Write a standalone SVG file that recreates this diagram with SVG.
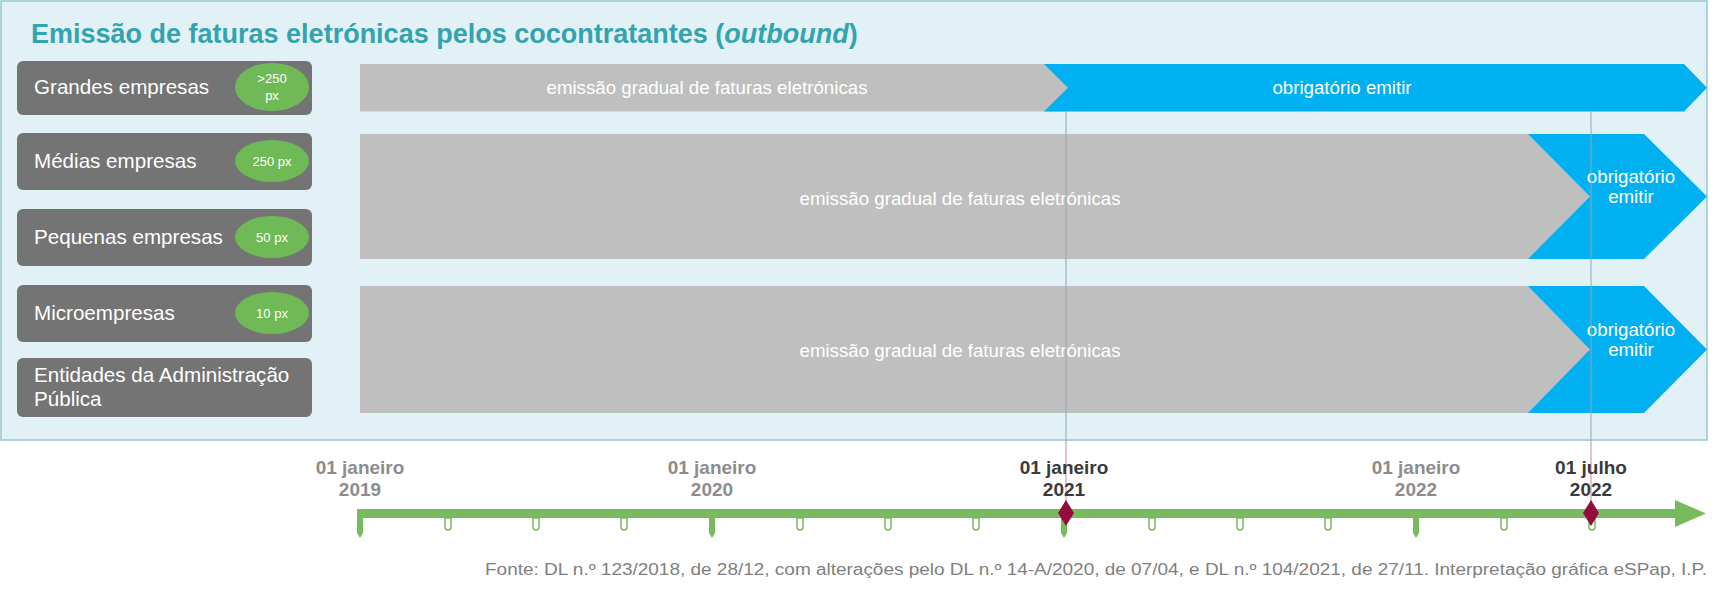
<svg xmlns="http://www.w3.org/2000/svg" width="1730" height="591" viewBox="0 0 1730 591">
<style>
.box{fill:#747474}
.bt{font-family:"Liberation Sans",Arial,sans-serif;font-size:20.6px;fill:#ffffff}
.ell{fill:#6fb957}
.et{font-family:"Liberation Sans",Arial,sans-serif;font-size:13px;fill:#ffffff;text-anchor:middle}
.gray{fill:#bfbfbf}
.blue{fill:#00b0f0}
.bar{font-family:"Liberation Sans",Arial,sans-serif;font-size:18.7px;fill:#ffffff;text-anchor:middle}
.tl{fill:#77bb5e}
.mt{fill:#ffffff;stroke:#77bb5e;stroke-width:1.5}
.dia{fill:#930d3c}
.dl{font-family:"Liberation Sans",Arial,sans-serif;font-size:19px;font-weight:bold;text-anchor:middle}
.dg{fill:#8c8c8c}
.dk{fill:#3a3a3a}
.vl{stroke:#8ea9b6;stroke-width:1}
.vr{stroke:#c98a9c;stroke-width:1}
</style>
<rect x="1" y="1" width="1706" height="439" fill="#e1f1f5" stroke="#94c6d1" stroke-width="1.5"/>
<text x="31" y="43" font-family="Liberation Sans,Arial,sans-serif" font-size="27" font-weight="bold" fill="#33a3ae">Emissão de faturas eletrónicas pelos cocontratantes (<tspan font-style="italic">outbound</tspan>)</text>

<g id="row1">
<rect class="gray" x="360" y="64" width="708" height="47.5"/>
<polygon class="blue" points="1044,64 1684,64 1707,87.75 1684,111.5 1044,111.5 1068,87.75"/>
<text class="bar" x="707" y="94">emissão gradual de faturas eletrónicas</text>
<text class="bar" x="1342" y="94">obrigatório emitir</text>
</g>
<g id="row2">
<rect class="gray" x="360" y="134" width="1230" height="125"/>
<polygon class="blue" points="1528,134 1644,134 1707,196.5 1644,259 1528,259 1590,196.5"/>
<text class="bar" x="960" y="205">emissão gradual de faturas eletrónicas</text>
<text class="bar" x="1631" y="183">obrigatório</text>
<text class="bar" x="1631" y="203">emitir</text>
</g>
<g id="row3">
<rect class="gray" x="360" y="286" width="1230" height="127"/>
<polygon class="blue" points="1528,286 1644,286 1707,349.5 1644,413 1528,413 1590,349.5"/>
<text class="bar" x="960" y="357">emissão gradual de faturas eletrónicas</text>
<text class="bar" x="1631" y="336">obrigatório</text>
<text class="bar" x="1631" y="356">emitir</text>
</g>

<g id="connectors">
<line class="vl" x1="1066" y1="111.5" x2="1066" y2="440"/>
<line class="vr" x1="1066" y1="440" x2="1066" y2="505"/>
<line class="vl" x1="1591" y1="111.5" x2="1591" y2="440"/>
<line class="vr" x1="1591" y1="440" x2="1591" y2="505"/>
</g>

<g id="grandes">
<rect class="box" x="17" y="61" width="295" height="54" rx="6"/>
<text class="bt" x="34" y="94">Grandes empresas</text>
<ellipse class="ell" cx="272" cy="87" rx="37" ry="24"/>
<text class="et" x="272" y="83">&gt;250</text>
<text class="et" x="272" y="100">px</text>
</g>
<g id="medias">
<rect class="box" x="17" y="133" width="295" height="57" rx="6"/>
<text class="bt" x="34" y="168">Médias empresas</text>
<ellipse class="ell" cx="272" cy="161" rx="37" ry="21"/>
<text class="et" x="272" y="166">250 px</text>
</g>
<g id="pequenas">
<rect class="box" x="17" y="209" width="295" height="57" rx="6"/>
<text class="bt" x="34" y="244">Pequenas empresas</text>
<ellipse class="ell" cx="272" cy="237" rx="37" ry="21"/>
<text class="et" x="272" y="242">50 px</text>
</g>
<g id="micro">
<rect class="box" x="17" y="285" width="295" height="57" rx="6"/>
<text class="bt" x="34" y="320">Microempresas</text>
<ellipse class="ell" cx="272" cy="313" rx="37" ry="21"/>
<text class="et" x="272" y="318">10 px</text>
</g>
<g id="entidades">
<rect class="box" x="17" y="358" width="295" height="59" rx="6"/>
<text class="bt" x="34" y="382">Entidades da Administração</text>
<text class="bt" x="34" y="406">Pública</text>
</g>

<g id="timeline">
<rect class="tl" x="357" y="509" width="1320" height="9"/>
<polygon class="tl" points="1675,500 1706,513.5 1675,527"/>
<polygon class="tl" points="357,518 363,518 363,533 360,538 357,533"/>
<polygon class="tl" points="709,518 715,518 715,533 712,538 709,533"/>
<polygon class="tl" points="1061,518 1067,518 1067,533 1064,538 1061,533"/>
<polygon class="tl" points="1413,518 1419,518 1419,533 1416,538 1413,533"/>
<path class="mt" d="M445,518v9a3,3 0 0 0 6,0v-9z"/>
<path class="mt" d="M533,518v9a3,3 0 0 0 6,0v-9z"/>
<path class="mt" d="M621,518v9a3,3 0 0 0 6,0v-9z"/>
<path class="mt" d="M797,518v9a3,3 0 0 0 6,0v-9z"/>
<path class="mt" d="M885,518v9a3,3 0 0 0 6,0v-9z"/>
<path class="mt" d="M973,518v9a3,3 0 0 0 6,0v-9z"/>
<path class="mt" d="M1149,518v9a3,3 0 0 0 6,0v-9z"/>
<path class="mt" d="M1237,518v9a3,3 0 0 0 6,0v-9z"/>
<path class="mt" d="M1325,518v9a3,3 0 0 0 6,0v-9z"/>
<path class="mt" d="M1501,518v9a3,3 0 0 0 6,0v-9z"/>
<path class="mt" d="M1589,518v9a3,3 0 0 0 6,0v-9z"/>
<polygon class="dia" points="1066,500 1074,513 1066,526 1058,513"/>
<polygon class="dia" points="1591,500 1599,513 1591,526 1583,513"/>
</g>

<g id="labels">
<text class="dl dg" x="360" y="474">01 janeiro</text>
<text class="dl dg" x="360" y="496">2019</text>
<text class="dl dg" x="712" y="474">01 janeiro</text>
<text class="dl dg" x="712" y="496">2020</text>
<text class="dl dk" x="1064" y="474">01 janeiro</text>
<text class="dl dk" x="1064" y="496">2021</text>
<text class="dl dg" x="1416" y="474">01 janeiro</text>
<text class="dl dg" x="1416" y="496">2022</text>
<text class="dl dk" x="1591" y="474">01 julho</text>
<text class="dl dk" x="1591" y="496">2022</text>
</g>
<text x="1707" y="575" text-anchor="end" font-family="Liberation Sans,Arial,sans-serif" font-size="16" fill="#7f7f7f" textLength="1222" lengthAdjust="spacingAndGlyphs">Fonte: DL n.º 123/2018, de 28/12, com alterações pelo DL n.º 14-A/2020, de 07/04, e DL n.º 104/2021, de 27/11. Interpretação gráfica eSPap, I.P.</text>
</svg>
